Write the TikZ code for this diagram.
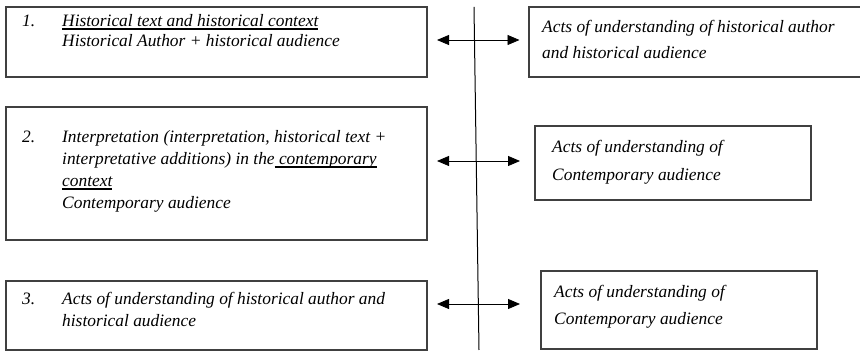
\documentclass[tikz,border=0pt]{standalone}
\usepackage{fontspec}
\setmainfont{Liberation Serif}
\usetikzlibrary{arrows.meta}
\newcommand\thkul[1]{\setbox0\hbox{#1}\rlap{\raisebox{-2.8pt}{\rule{\wd0}{1.3pt}}}\box0}
\begin{document}
\begin{tikzpicture}[x=1pt,y=-1pt,
  box/.style={draw=black!75,line width=1.2pt,inner sep=0pt},
  txt/.style={anchor=base west,inner sep=0pt,font=\fontsize{17.4}{19}\selectfont\itshape},
  biarrow/.style={draw=black,line width=0.8pt,{Triangle[length=12pt,width=10pt]}-{Triangle[length=12pt,width=10pt]}},
  divider/.style={draw=black,line width=1pt}]
\useasboundingbox (0,0) rectangle (860,352);
% left boxes
\node[box,minimum width=421pt,minimum height=70pt] (L1) at (216.5,42) {};
\node[box,minimum width=421pt,minimum height=133pt] (L2) at (216.5,173.5) {};
\node[box,minimum width=421pt,minimum height=69pt] (L3) at (216.5,315.5) {};
% right boxes
\node[box,minimum width=334pt,minimum height=70pt] (R1) at (696,42) {};
\node[box,minimum width=276pt,minimum height=74pt] (R2) at (673,163) {};
\node[box,minimum width=276pt,minimum height=78pt] (R3) at (679,310) {};
% divider
\coordinate (vtop) at (474,7);
\coordinate (vbot) at (479,350);
\draw[divider] (vtop) -- (vbot);
% arrows
\coordinate (a1l) at (437,40); \coordinate (a1r) at (519.5,40);
\coordinate (a2l) at (437,161); \coordinate (a2r) at (520,161);
\coordinate (a3l) at (437,304); \coordinate (a3r) at (520,304);
\draw[biarrow] (a1l) -- (a1r);
\draw[biarrow] (a2l) -- (a2r);
\draw[biarrow] (a3l) -- (a3r);
% texts left 1
\node[txt] (n1) at (22,27) {1.};
\node[txt] (t1a) at (62,27) {\thkul{Historical text and historical context}};
\node[txt] (t1b) at (62,47) {Historical Author + historical audience};
% texts left 2
\node[txt] (n2) at (22,143) {2.};
\node[txt] (t2a) at (62,143) {Interpretation (interpretation, historical text +};
\node[txt] (t2b) at (62,165) {interpretative additions) in the\thkul{ contemporary}};
\node[txt] (t2c) at (62,187) {\thkul{context}};
\node[txt] (t2d) at (62,209) {Contemporary audience};
% texts left 3
\node[txt] (n3) at (22,305) {3.};
\node[txt] (t3a) at (62,305) {Acts of understanding of historical author and};
\node[txt] (t3b) at (62,327) {historical audience};
% right texts
\node[txt] (r1a) at (542,33) {Acts of understanding of historical author};
\node[txt] (r1b) at (542,59) {and historical audience};
\node[txt] (r2a) at (552,153) {Acts of understanding of};
\node[txt] (r2b) at (552,181) {Contemporary audience};
\node[txt] (r3a) at (554,298) {Acts of understanding of};
\node[txt] (r3b) at (554,325) {Contemporary audience};
\end{tikzpicture}
\end{document}
